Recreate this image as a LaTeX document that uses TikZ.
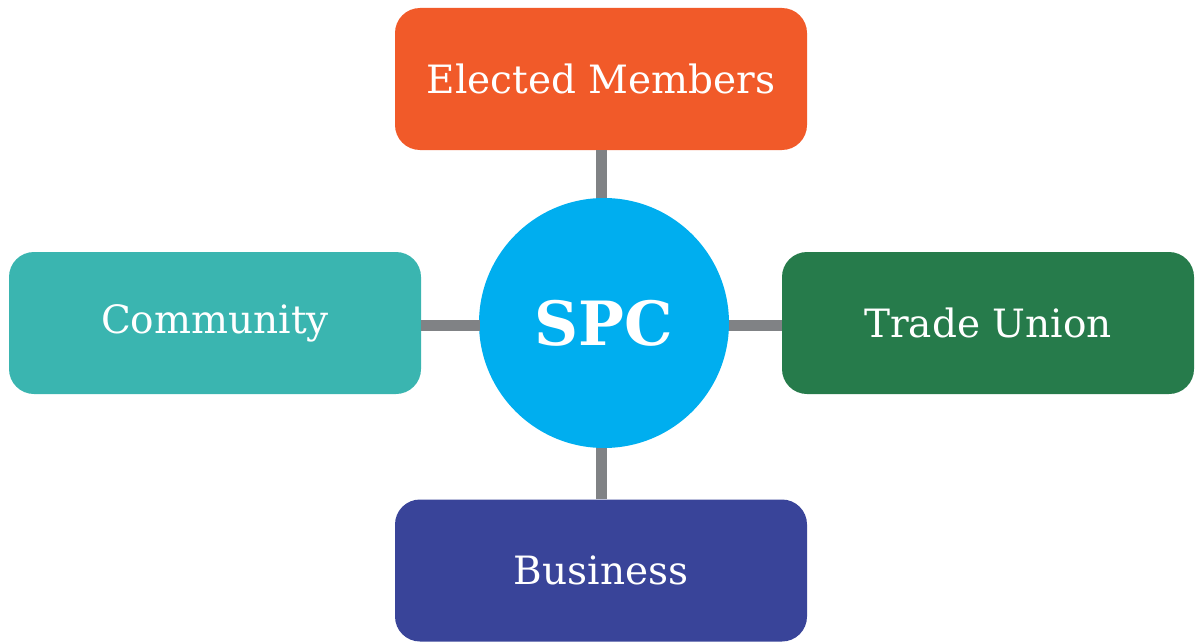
\documentclass[tikz,border=0pt]{standalone}
\usepackage{fontspec}
\setmainfont{DejaVu Serif}
\definecolor{cOrange}{HTML}{F15A29}
\definecolor{cTeal}{HTML}{3AB5B0}
\definecolor{cGreen}{HTML}{267B4B}
\definecolor{cNavy}{HTML}{394499}
\definecolor{cBlue}{HTML}{00AEEF}
\definecolor{cGray}{HTML}{808285}
\begin{document}
\begin{tikzpicture}[x=1pt,y=-1pt,
  box/.style={rounded corners=25pt,minimum width=412pt,minimum height=142pt,inner sep=0pt,text=white,font=\fontsize{39}{44}\selectfont},
  link/.style={draw=cGray,line width=11pt}]
\useasboundingbox (0,0) rectangle (1197,642);
\node[box,fill=cOrange] (em) at (601,79) {Elected Members};
\node[box,fill=cTeal] (co) at (215,323) {Community};
\node[box,fill=cGreen] (tu) at (988,323) {Trade Union};
\node[box,fill=cNavy] (bu) at (601,570.5) {Business};
\node[circle,fill=cBlue,minimum size=250pt,inner sep=0pt,text=white,font=\fontsize{61}{66}\selectfont\bfseries] (spc) at (604,323) {SPC};
\draw[link] (em.south -| 601,0) -- (601,198);
\draw[link] (bu.north -| 601,0) -- (601,448);
\draw[link] (co.east |- 0,325) -- (480,325);
\draw[link] (tu.west |- 0,325) -- (729,325);
\end{tikzpicture}
\end{document}
